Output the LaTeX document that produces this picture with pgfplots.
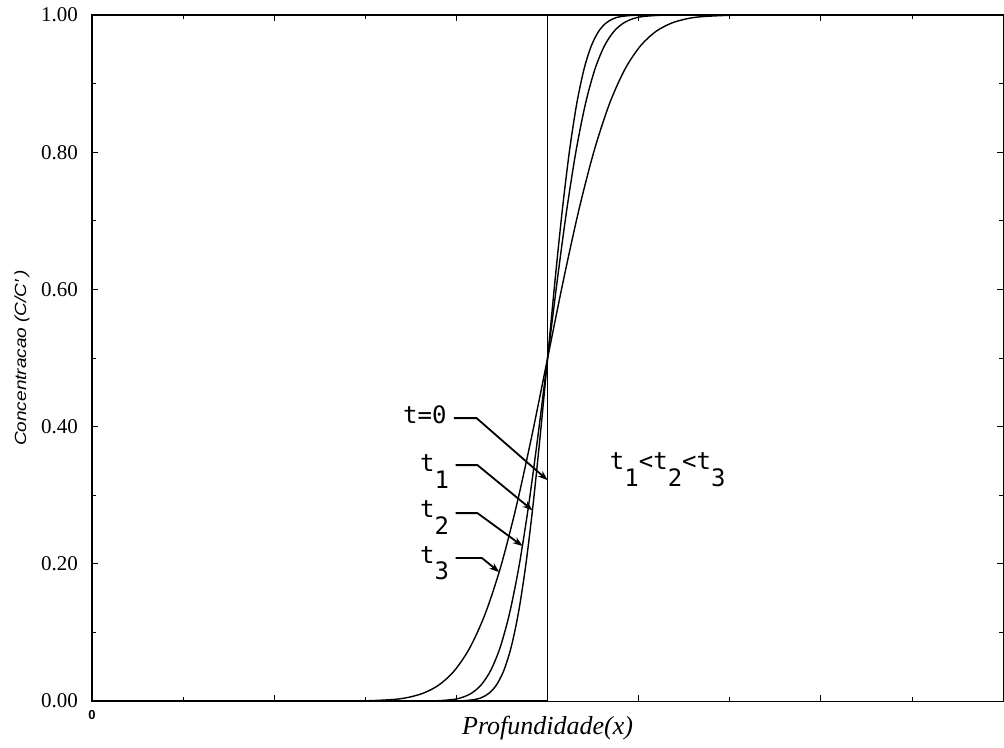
\documentclass[border=0pt]{standalone}
\usepackage{fontspec}
\setmainfont{Liberation Serif}
\newfontfamily\annfont{DejaVu Sans Mono}
\newfontfamily\labsans{Liberation Sans}
\usepackage{pgfplots}
\pgfplotsset{compat=1.18}
\usetikzlibrary{arrows.meta,calc}

% lowered index digit used in the time labels
\newcommand{\sub}[1]{\raisebox{-0.68em}{#1}}

\begin{document}
\begin{tikzpicture}
\begin{axis}[
  name=ax,
  at={(0,0)}, anchor=south west,
  scale only axis, width=455.5pt, height=343pt,
  xmin=0, xmax=10, ymin=0, ymax=1,
  xtick={0,2,4,6,8,10}, minor xtick={1,3,5,7,9},
  xticklabels={0,,,,,},
  xticklabel style={font=\labsans\bfseries\fontsize{6.5}{7}\selectfont, inner sep=0pt, yshift=-4.5pt},
  ytick={0,0.2,0.4,0.6,0.8,1}, minor ytick={0.1,0.3,0.5,0.7,0.9},
  yticklabel style={/pgf/number format/fixed, /pgf/number format/fixed zerofill,
    /pgf/number format/precision=2, font=\fontsize{10.5}{12}\selectfont, xshift=-3.5pt},
  /pgf/number format/assume math mode=true,
  tick align=inside, major tick length=3pt, minor tick length=2pt,
  tick style={black, line width=0.5pt},
  axis line style={line width=0.6pt},
  xlabel={Profundidade(x)},
  xlabel style={at={(axis description cs:0.5,0)}, anchor=center, inner sep=0pt, yshift=-13.5pt,
    font=\itshape\fontsize{13}{15}\selectfont},
  ylabel={\scalebox{1}[0.85]{Concentracao (C/C′\,)}},
  ylabel style={at={(axis description cs:0,0.5)}, anchor=center, inner sep=0pt, yshift=35pt,
    font=\labsans\itshape\fontsize{9.5}{10}\selectfont},
]
% initial profile (t = 0): a sharp step at the interface
\addplot[line width=0.7pt] coordinates {(0,0) (5,0) (5,1) (10,1)};

% t1
\addplot[smooth, line width=0.7pt] coordinates {
(0,0) (3.80,0) (4.04,0.00035) (4.20,0.00235) (4.28,0.00545) (4.36,0.01185)
(4.44,0.02385) (4.52,0.04485) (4.60,0.07865) (4.68,0.12895) (4.76,0.19805)
(4.84,0.2858) (4.92,0.38865) (5.00,0.5) (5.08,0.61135) (5.16,0.7142)
(5.24,0.80195) (5.32,0.87105) (5.40,0.92135) (5.48,0.95515) (5.56,0.97615)
(5.64,0.98815) (5.72,0.99455) (5.80,0.99765) (5.96,0.99965) (6.20,1) (10,1)};

% t2
\addplot[smooth, line width=0.7pt] coordinates {
(0,0) (3.44,0) (3.752,0.00035) (3.96,0.00235) (4.064,0.00545) (4.168,0.01185)
(4.272,0.02385) (4.376,0.04485) (4.48,0.07865) (4.584,0.12895) (4.688,0.19805)
(4.792,0.2858) (4.896,0.38865) (5.00,0.5) (5.104,0.61135) (5.208,0.7142)
(5.312,0.80195) (5.416,0.87105) (5.52,0.92135) (5.624,0.95515) (5.728,0.97615)
(5.832,0.98815) (5.936,0.99455) (6.04,0.99765) (6.248,0.99965) (6.56,1) (10,1)};

% t3
\addplot[smooth, line width=0.7pt] coordinates {
(0,0) (2.45,0) (2.96,0.00035) (3.30,0.00235) (3.47,0.00545) (3.64,0.01185)
(3.81,0.02385) (3.98,0.04485) (4.15,0.07865) (4.32,0.12895) (4.49,0.19805)
(4.66,0.2858) (4.83,0.38865) (5.00,0.5) (5.17,0.61135) (5.34,0.7142)
(5.51,0.80195) (5.68,0.87105) (5.85,0.92135) (6.02,0.95515) (6.19,0.97615)
(6.36,0.98815) (6.53,0.99455) (6.70,0.99765) (7.04,0.99965) (7.55,1) (10,1)};

% curve labels
\begin{scope}[font=\annfont\fontsize{12}{13}\selectfont]
\node[anchor=base west, inner sep=0pt] at (axis cs:3.41,0.405) {t=0};
\node[anchor=base west, inner sep=0pt] at (axis cs:3.596,0.334) {t\sub{1}};
\node[anchor=base west, inner sep=0pt] at (axis cs:3.596,0.267) {t\sub{2}};
\node[anchor=base west, inner sep=0pt] at (axis cs:3.596,0.201) {t\sub{3}};
\node[anchor=base west, inner sep=0pt] at (axis cs:5.68,0.337) {t\sub{1}<t\sub{2}<t\sub{3}};
\end{scope}

% leader arrows
\begin{scope}[line width=0.9pt, -{Stealth[length=5pt,width=3.5pt]}]
\draw (axis cs:3.97,0.4125) -- (axis cs:4.22,0.4125) -- (axis cs:5.0,0.322);
\draw (axis cs:3.99,0.344) -- (axis cs:4.23,0.344) -- (axis cs:4.835,0.278);
\draw (axis cs:3.99,0.274) -- (axis cs:4.23,0.274) -- (axis cs:4.726,0.226);
\draw (axis cs:3.99,0.2085) -- (axis cs:4.28,0.2085) -- (axis cs:4.47,0.188);
\end{scope}
\end{axis}
\pgfresetboundingbox
\path[use as bounding box] ($(ax.south west)+(-46pt,-23pt)$) rectangle ($(ax.north east)+(0.4pt,7.5pt)$);
\end{tikzpicture}
\end{document}
